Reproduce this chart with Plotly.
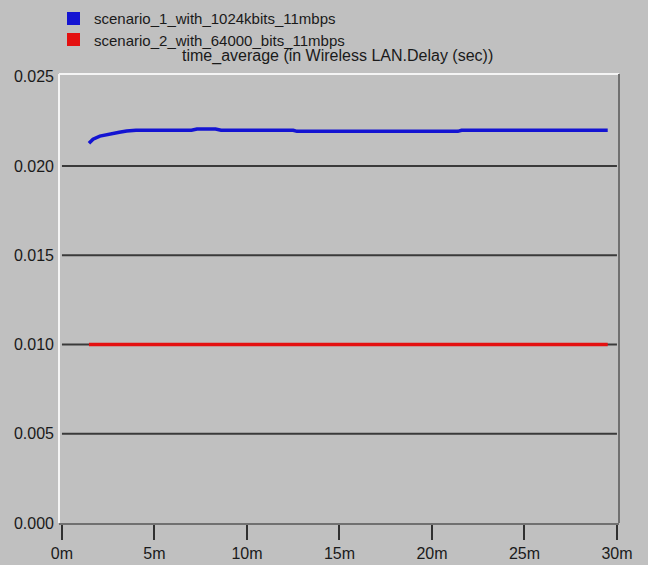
import plotly.graph_objects as go

# Data (time in minutes, delay in seconds)
s1_time = [1.46, 1.68, 2.05, 2.6, 3.1, 3.5, 4.0, 7.0, 7.3, 8.3, 8.6, 12.5, 12.7, 21.4, 21.6, 29.5]
s1_delay = [0.02127, 0.02150, 0.02167, 0.02180, 0.02189, 0.02196, 0.02200, 0.02200, 0.02207, 0.02207,
            0.02200, 0.02200, 0.02194, 0.02194, 0.02200, 0.02200]
s2_time = [1.46, 29.5]
s2_delay = [0.0100, 0.0100]

series_names = ["scenario_1_with_1024kbits_11mbps", "scenario_2_with_64000_bits_11mbps"]
series_colors = ["#1414d2", "#e41010"]
x_tickvals = [0, 5, 10, 15, 20, 25, 30]
x_ticktext = ["0m", "5m", "10m", "15m", "20m", "25m", "30m"]
y_tickvals = [0.0, 0.005, 0.010, 0.015, 0.020, 0.025]
y_ticktext = ["0.000", "0.005", "0.010", "0.015", "0.020", "0.025"]
grid_vals = [0.005, 0.010, 0.015, 0.020]
chart_title = "time_average (in Wireless LAN.Delay (sec))"

FONT = "Liberation Sans, Arial, sans-serif"
BG = "#c0c0c0"
TXT = "#1a1a1a"

W, H = 648, 565
ML, MR, MT, MB = 59, 29, 74, 42
PW, PH = W - ML - MR, H - MT - MB


def px(x):
    return (x - ML) / PW


def py(y):
    return (H - MB - y) / PH


fig = go.Figure()

for gv in grid_vals:
    fig.add_shape(type="line", xref="x", yref="y", x0=x_tickvals[0], x1=x_tickvals[-1],
                  y0=gv, y1=gv, line=dict(color="#3a3a3a", width=2), layer="below")

fig.add_trace(go.Scatter(x=s1_time, y=s1_delay, mode="lines", showlegend=False,
                         line=dict(color=series_colors[0], width=3.5)))
fig.add_trace(go.Scatter(x=s2_time, y=s2_delay, mode="lines", showlegend=False,
                         line=dict(color=series_colors[1], width=3.5)))

# legend drawn as squares + text
leg_rows = [(12, 25, 19), (33, 46, 40)]
for (y0, y1, yc), name, col in zip(leg_rows, series_names, series_colors):
    fig.add_shape(type="rect", xref="paper", yref="paper", x0=px(67), x1=px(80),
                  y0=py(y1), y1=py(y0), fillcolor=col, line=dict(width=0))
    fig.add_annotation(text=name, xref="paper", yref="paper", x=px(92), y=py(yc),
                       xanchor="left", yanchor="middle", showarrow=False,
                       font=dict(family=FONT, size=15, color=TXT))

# frame: white left/top, gray right
fig.add_shape(type="line", xref="paper", yref="paper", x0=0, x1=0, y0=0, y1=1,
              line=dict(color="#f4f4f4", width=2))
fig.add_shape(type="line", xref="paper", yref="paper", x0=0, x1=1, y0=1, y1=1,
              line=dict(color="#f4f4f4", width=2))
fig.add_shape(type="line", xref="paper", yref="paper", x0=1, x1=1, y0=0, y1=1,
              line=dict(color="#707070", width=2))

fig.add_annotation(text=chart_title, xref="paper", yref="paper", x=px(337), y=py(56),
                   xanchor="center", yanchor="middle", showarrow=False,
                   font=dict(family=FONT, size=16, color=TXT))

fig.update_layout(
    width=W, height=H,
    paper_bgcolor=BG, plot_bgcolor=BG,
    margin=dict(l=ML, r=MR, t=MT, b=MB, autoexpand=False),
    font=dict(family=FONT, size=16, color=TXT),
    showlegend=False,
    xaxis=dict(range=[-0.16, 30.11], tickvals=x_tickvals, ticktext=x_ticktext, automargin=False,
               showgrid=False, zeroline=False, showline=True, linecolor="#707070", linewidth=2,
               ticks="outside", ticklen=15, tickwidth=2, tickcolor="#303030",
               tickfont=dict(family=FONT, size=16, color=TXT)),
    yaxis=dict(range=[0, 0.02515], tickvals=y_tickvals, ticktext=y_ticktext, automargin=False,
               showgrid=False, zeroline=False, showline=False, ticks="", ticklabelstandoff=4,
               tickfont=dict(family=FONT, size=16, color=TXT)),
)

fig.write_html("out.html", config={"displayModeBar": False},
               post_script="document.body.style.margin='0';")
